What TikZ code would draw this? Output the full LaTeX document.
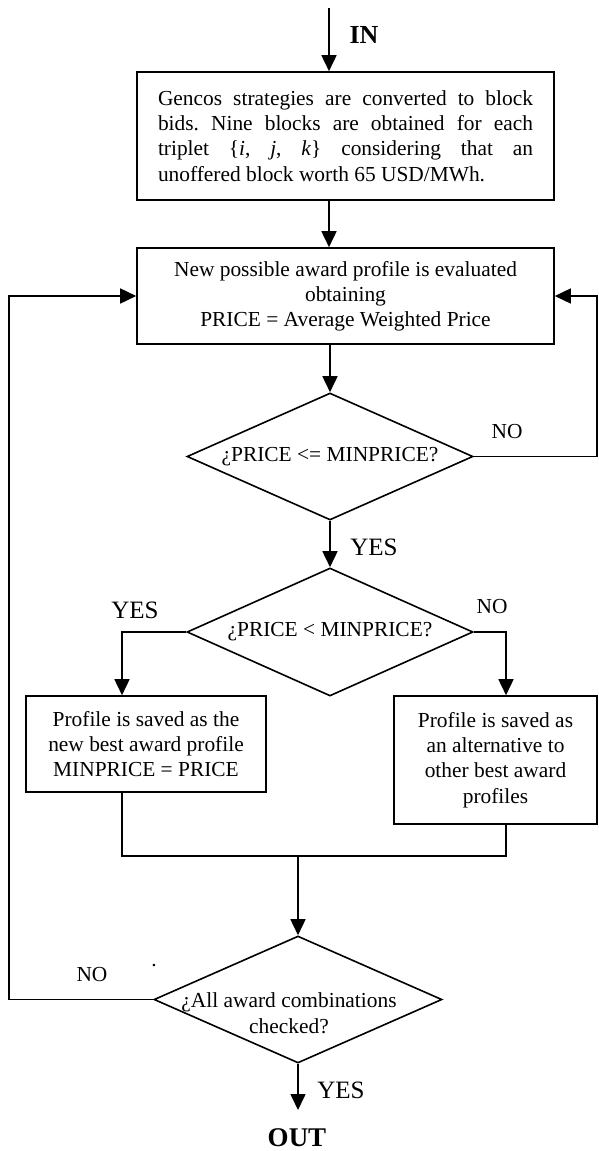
\documentclass[tikz,border=0pt]{standalone}
\usepackage{fontspec}
\setmainfont{Liberation Serif}
\usetikzlibrary{arrows.meta,shapes.geometric}
\frenchspacing

\begin{document}
\begin{tikzpicture}[x=1pt,y=-1pt,line width=1.6pt,
    flow/.style={-{Triangle[length=16pt,width=15pt]}},
    block/.style={draw,rectangle,font=\fontsize{21.4}{25.2}\selectfont,align=center,inner sep=0pt},
    decision/.style={draw,diamond,minimum width=286pt,minimum height=127pt,inner sep=0pt},
    txt/.style={font=\fontsize{21.4}{25.5}\selectfont,align=center,inner sep=0pt},
    big/.style={font=\fontsize{25}{30}\selectfont,inner sep=0pt}]
    \useasboundingbox (0,0) rectangle (598,1151);

    \coordinate (in) at (329,8);
    \node[big,font=\fontsize{26}{30}\selectfont\bfseries] (inlabel) at (364,35) {IN};
    \node[block,text width=375pt,align=justify,inner xsep=21pt,minimum height=128pt] (gencos) at (345.5,136)
        {Gencos strategies are converted to block\linebreak
         bids. Nine blocks are obtained for each\linebreak
         triplet \{\textit{i},\ \textit{j},\ \textit{k}\} considering that an\linebreak
         unoffered block worth 65 USD/MWh.};
    \node[block,minimum width=417pt,minimum height=96pt] (evaluate) at (345.5,296)
        {New possible award profile is evaluated\\obtaining\\PRICE = Average Weighted Price};

    \node[decision] (lesseq) at (330,456.5) {};
    \node[txt] (lesseqtext) at (lesseq) {¿PRICE <= MINPRICE?};
    \node[decision,minimum height=128pt] (less) at (330,632) {};
    \node[txt] (lesstext) at (less) {¿PRICE < MINPRICE?};

    \node[block,minimum width=240pt,minimum height=96pt] (newbest) at (146,744)
        {Profile is saved as the\\new best award profile\\MINPRICE = PRICE};
    \node[block,minimum width=203pt,minimum height=128pt] (alternative) at (495.5,760)
        {Profile is saved as\\an alternative to\\other best award\\profiles};

    \node[decision,minimum width=288pt] (allchecked) at (298,999.5) {};
    \node[txt] (allcheckedtext) at (289,1013) {¿All award combinations\\checked?};

    \coordinate (right) at (597,296);
    \coordinate (left) at (9,296);
    \coordinate (merge) at (298,856);
    \coordinate (out) at (298,1110);

    \draw[flow] (in) -- (in |- gencos.north);
    \draw[flow] (in |- gencos.south) -- (in |- evaluate.north);
    \draw[flow] (lesseq.north |- evaluate.south) -- (lesseq.north);
    \draw[flow] (lesseq.east) -| (right) -- (evaluate.east);
    \draw[flow] (lesseq.south) -- (less.north);
    \draw[flow] (less.west) -| ([xshift=-24pt]newbest.north);
    \draw[flow] (less.east) -| ([xshift=10.5pt]alternative.north);
    \draw ([xshift=-24pt]newbest.south) |- (merge) -| ([xshift=10.5pt]alternative.south);
    \draw[flow] (merge) -- (allchecked.north);
    \draw[flow] (allchecked.west) -| (left) -- (evaluate.west);
    \draw[flow] (allchecked.south) -- (out);

    \node[txt] (no1) at (507,432) {NO};
    \node[big] (yes1) at (374,547) {YES};
    \node[big] (yes2) at (135,610) {YES};
    \node[txt] (no2) at (492,607) {NO};
    \node[txt] (no3) at (92,975) {NO};
    \node[txt] (dot) at (154,966) {.};
    \node[big] (yes3) at (341,1090) {YES};
    \node[big,font=\fontsize{27}{30}\selectfont\bfseries] (outlabel) at (297,1138) {OUT};
\end{tikzpicture}
\end{document}
